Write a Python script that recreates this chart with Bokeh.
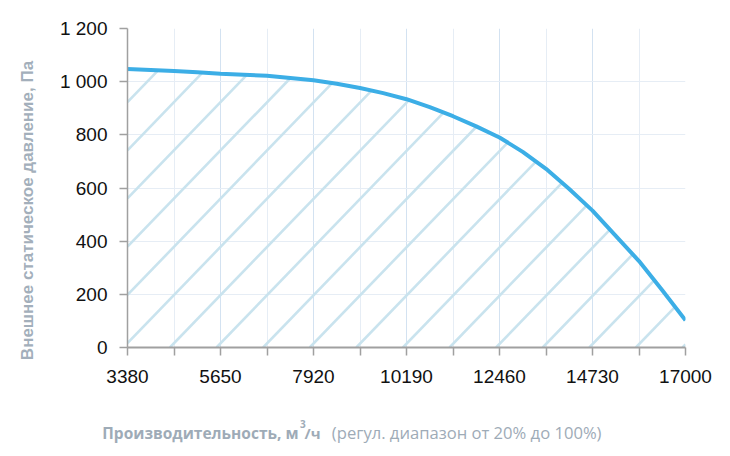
from bokeh.plotting import figure
from bokeh.models import Range1d, FixedTicker, Label
from bokeh.embed import file_html
from bokeh.resources import INLINE
import numpy as np
import math

# flow rate, m3/h
flow = [3380, 3947.5, 4515, 5082.5, 5650, 6217.5, 6785, 7352.5, 7920, 8487.5,
        9055, 9622.5, 10190, 10757.5, 11325, 11892.5, 12460, 13027.5, 13595,
        14162.5, 14730, 15297.5, 15865, 16432.5, 17000]
# external static pressure, Pa
pressure = [1048, 1044, 1040, 1035, 1030, 1026, 1022, 1014, 1005, 992,
            976, 957, 934, 904, 870, 832, 790, 736, 672,
            596, 515, 420, 325, 215, 102]

x_major = [3380, 5650, 7920, 10190, 12460, 14730, 17000]
x_minor = [4515, 6785, 9055, 11325, 13595, 15865]
y_ticks = [0, 200, 400, 600, 800, 1000, 1200]
y_labels = {0: "0", 200: "200", 400: "400", 600: "600", 800: "800",
            1000: "1 000", 1200: "1 200"}

y_title = "Внешнее статическое давление, Па"
x_title_a = "Производительность, м"
x_title_sup = "3"
x_title_b = "/ч"
x_title_norm = "(регул. диапазон от 20% до 100%)"

X0, X1, Y0, Y1 = 3380, 17000, 0, 1200
W, H = 714, 448
BL, BR, BT, BB = 127, 29, 28, 101
fw, fh = W - BL - BR, H - BT - BB

p = figure(width=W, height=H, output_backend="svg", toolbar_location=None,
           x_range=Range1d(X0, X1), y_range=Range1d(Y0, Y1),
           min_border_left=BL, min_border_right=BR, min_border_top=BT,
           min_border_bottom=BB)
p.outline_line_color = None
p.background_fill_color = "white"

# ---- hatch under the curve: screen-space diagonal lines, clipped at the curve
ux = (X1 - X0) / fw          # data per pixel (x)
uy = (Y1 - Y0) / fh          # data per pixel (y)
slope = 1.035 * uy / ux      # pixel slope 1.035 -> data slope
step = 46.6 * ux             # spacing along the x axis
first = X0 - 4.2 * ux
hx0, hy0, hx1, hy1 = [], [], [], []
grid_x = np.linspace(X0, X1, 4000)
grid_c = np.interp(grid_x, flow, pressure)
for k in range(-12, 14):
    xk = first + k * step
    if xk >= X0:
        sx, sy = xk, 0.0
    else:
        sx, sy = X0, slope * (X0 - xk)
        if sy >= pressure[0]:
            continue
    if sx >= X1:
        continue
    mask = grid_x >= sx
    gx, gc = grid_x[mask], grid_c[mask]
    d = slope * (gx - xk) - gc
    idx = np.where(d >= 0)[0]
    if len(idx) == 0:
        ex = X1
    else:
        i = idx[0]
        if i == 0:
            continue
        t = -d[i - 1] / (d[i] - d[i - 1])
        ex = gx[i - 1] + t * (gx[i] - gx[i - 1])
    hx0.append(sx); hy0.append(sy)
    hx1.append(ex); hy1.append(slope * (ex - xk))

p.segment(hx0, hy0, hx1, hy1, line_color="#c9e3ee", line_width=2.6)
p.line(flow, pressure, line_color="#3caee6", line_width=4)

p.xaxis.ticker = FixedTicker(ticks=x_major, minor_ticks=x_minor)
p.yaxis.ticker = FixedTicker(ticks=y_ticks, minor_ticks=[])
p.yaxis.major_label_overrides = y_labels

for ax in (p.xaxis, p.yaxis):
    ax.axis_line_color = "#a0a0a0"
    ax.axis_line_width = 1.5
    ax.major_tick_line_color = "#a0a0a0"
    ax.minor_tick_line_color = "#a0a0a0"
    ax.major_tick_line_width = 1.5
    ax.minor_tick_line_width = 1.5
    ax.major_tick_in = 0
    ax.major_tick_out = 8
    ax.minor_tick_in = 0
    ax.minor_tick_out = 8
    ax.major_label_text_font = "Liberation Sans"
    ax.major_label_text_font_size = "19px"
    ax.major_label_text_color = "#111111"
p.xaxis.axis_line_width = 2
p.yaxis.minor_tick_out = 0
p.xaxis.major_label_standoff = 14
p.yaxis.major_label_standoff = 12

p.xgrid.grid_line_color = "#d3e2f1"
p.xgrid.minor_grid_line_color = "#e6edf5"
p.ygrid.grid_line_color = "#e6edf5"

title_color = "#9eabb7"
# labels use canvas units; the side panel only keeps them from being clipped
p.add_layout(Label(x=27, y=210, x_units="canvas", y_units="canvas",
                   text=y_title, angle=math.pi / 2, text_align="center",
                   text_baseline="middle", text_font="Liberation Sans",
                   text_font_style="bold", text_font_size="17px",
                   text_color="#a3afbb"), "left")
p.add_layout(Label(x=298, y=432, x_units="canvas", y_units="canvas",
                   text=x_title_a, text_align="right",
                   text_baseline="alphabetic", text_font="Open Sans",
                   text_font_style="bold", text_font_size="15.5px",
                   text_color=title_color), "below")
p.add_layout(Label(x=299.5, y=423, x_units="canvas", y_units="canvas",
                   text=x_title_sup, text_align="left",
                   text_baseline="alphabetic", text_font="Open Sans",
                   text_font_style="bold", text_font_size="10px",
                   text_color=title_color), "right")
p.add_layout(Label(x=304, y=432, x_units="canvas", y_units="canvas",
                   text=x_title_b, text_align="left",
                   text_baseline="alphabetic", text_font="Open Sans",
                   text_font_style="bold", text_font_size="15px",
                   text_color=title_color), "right")
p.add_layout(Label(x=601, y=432, x_units="canvas", y_units="canvas",
                   text=x_title_norm, text_align="right",
                   text_baseline="alphabetic", text_font="Open Sans",
                   text_font_size="16.6px", text_color=title_color), "below")

open("out.html", "w").write(file_html(p, INLINE))
